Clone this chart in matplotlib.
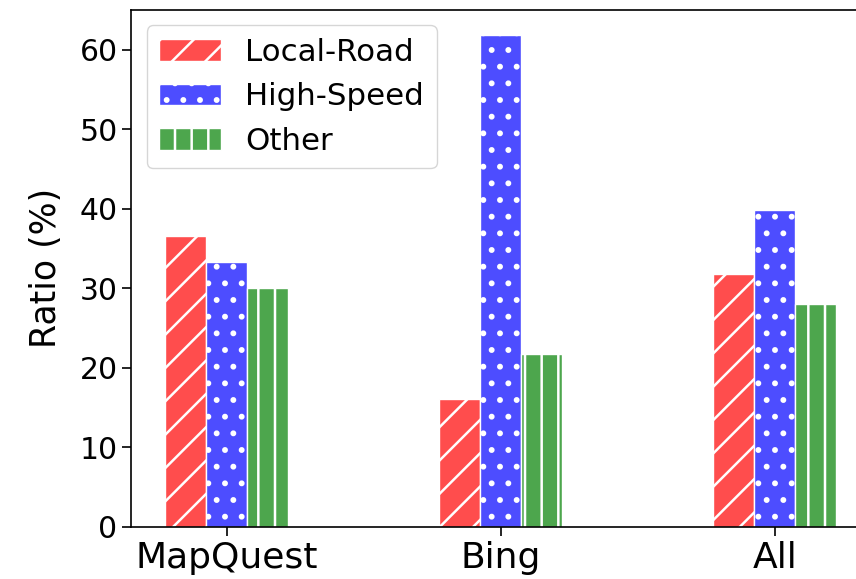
import matplotlib
matplotlib.use("Agg")
import matplotlib.pyplot as plt
import numpy as np

# Share of route segments by road type for each service
services = ["MapQuest", "Bing", "All"]
series_names = ["Local-Road", "High-Speed", "Other"]
local_road = [36.6, 16.1, 31.8]
high_speed = [33.3, 61.9, 39.9]
other = [30.0, 21.7, 28.0]

colors = ["#ff4d4d", "#4d4dff", "#4da64d"]
hatches = ["/", ".", "|"]

plt.rcParams["hatch.linewidth"] = 1.8

fig = plt.figure(figsize=(8.56, 5.79), dpi=100)
ax = fig.add_axes([0.1535, 0.0903, 0.8627, 0.8924])

x = np.arange(len(services))
width = 0.15
for i, (name, vals) in enumerate(zip(series_names, [local_road, high_speed, other])):
    ax.bar(x + (i - 1) * width, vals, width, label=name, color=colors[i],
           edgecolor="white", hatch=hatches[i], linewidth=1.0)

ax.set_xticks(x)
ax.set_xticklabels(services, fontsize=26)
ax.tick_params(axis="y", labelsize=21.5)
ax.tick_params(axis="both", length=6.5, width=1.2)
ax.set_yticks([0, 10, 20, 30, 40, 50, 60])
ax.set_ylabel("Ratio (%)", fontsize=25, labelpad=12)
for s in ax.spines.values():
    s.set_linewidth(1.2)

ax.legend(loc="upper left", fontsize=22.2)

fig.savefig("out.png", dpi=100)
